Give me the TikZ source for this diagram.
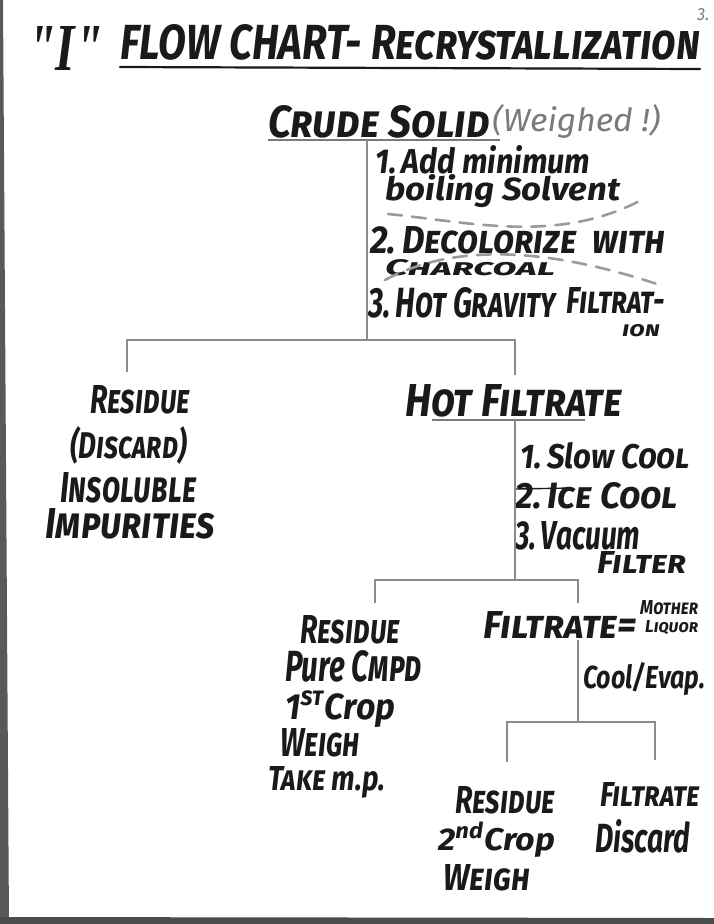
\documentclass[tikz,border=0pt]{standalone}
\usepackage{fontspec}
\setmainfont{Fira Sans}
\newfontfamily\serifI{Liberation Serif}
\usepackage{graphicx}
% width and height (above baseline) of a handwritten line, in px
\newcommand\tw[3]{\resizebox{#1pt}{#2pt}{#3}}
\definecolor{ink}{HTML}{1A1A1A}
\definecolor{pencil}{HTML}{8A8A8A}
\definecolor{faint}{HTML}{7A7A7A}
\tikzset{
  txt/.style={inner sep=0pt, anchor=base west, text=ink, font=\bfseries\itshape},
  gtxt/.style={txt, text=faint},
  conn/.style={draw=pencil, line width=1.6pt},
  uline/.style={draw=ink, line width=2.2pt, line cap=round},
  gline/.style={draw=faint, line width=1.6pt},
  dashmark/.style={draw=faint!75, line width=2.6pt, dash pattern=on 14pt off 10pt, line cap=round}
}
\begin{document}
\begin{tikzpicture}[x=1pt,y=-1pt]
\useasboundingbox (0,0) rectangle (714,924);
\fill[white] (0,0) rectangle (714,924);
% frame edges
\fill[black!65] (0,0) -- (3,0) -- (9,924) -- (0,924) -- cycle;
\fill[black!70] (0,917) -- (714,918) -- (714,924) -- (0,924) -- cycle;

% title
\node[txt] (qI) at (28,70) {\tw{75}{44}{\normalfont\itshape\bfseries\serifI "I"}};
\node[txt] (title) at (120,59) {\tw{580}{35}{FLOW CHART- \textsc{Recrystallization}}};
\draw[uline] (120,67) -- (700,69);
\node[gtxt, font=\itshape] (pg) at (697,20) {\tw{12}{12}{3.}};

% crude solid
\node[txt] (crude) at (268,137) {\tw{222}{32}{\textsc{Crude Solid}}};
\node[gtxt, font=\itshape] (weighed) at (492,131) {\tw{168}{27}{(Weighed !)}};
\draw[gline] (268,140) -- (500,140);
\coordinate (cs) at (367,140);

\node[txt] (s1a) at (375,173) {\tw{215}{28}{1.\,Add minimum}};
\node[txt] (s1b) at (385,200) {\tw{235}{26}{boiling Solvent}};
\node[txt] (s2a) at (370,253) {\tw{295}{27}{2.\,\textsc{Decolorize}\ \ \textsc{with}}};
\node[txt] (s2b) at (385,275) {\tw{170}{16}{\textsc{Charcoal}}};
\node[txt] (s3a) at (368,317) {\tw{188}{30}{3.\,\textsc{Hot Gravity}}};
\node[txt] (s3c) at (566,313) {\tw{99}{26}{\textsc{Filtrat-}}};
\node[txt] (s3b) at (622,336) {\tw{38}{12}{\textsc{ion}}};

% crossed dashes
\draw[dashmark] (388,214) .. controls (470,222) and (560,245) .. (645,198);
\draw[dashmark] (385,280) .. controls (450,245) and (540,245) .. (660,285);

% first split
\coordinate (j1) at (367,340);
\coordinate (l1) at (127,340);
\coordinate (r1) at (515,340);
\coordinate (l1e) at (127,372);
\coordinate (r1e) at (515,375);
\draw[conn] (cs) -- (j1);
\draw[conn] (l1e) -- (l1) -- (r1) -- (r1e);

% left residue
\node[txt] (res1) at (90,413) {\tw{100}{28}{\textsc{Residue}}};
\node[txt] (disc1) at (70,458) {\tw{117}{32}{(\textsc{Discard})}};
\node[txt] (insol) at (60,502) {\tw{136}{30}{\textsc{Insoluble}}};
\node[txt] (impur) at (45,538) {\tw{170}{30}{\textsc{Impurities}}};

% hot filtrate
\node[txt] (hotf) at (405,416) {\tw{217}{32}{\textsc{Hot Filtrate}}};
\draw[gline] (432,420) -- (585,420);
\coordinate (hf) at (515,420);

\node[txt] (c1) at (520,468) {\tw{170}{26}{1.\,Slow \textsc{Cool}}};
\node[txt] (c2) at (515,508) {\tw{163}{26}{2.\,\textsc{Ice Cool}}};
\draw[draw=ink, line width=1.4pt] (516,489) -- (572,488);
\node[txt] (c3a) at (515,549) {\tw{125}{28}{3.\,Vacuum}};
\node[txt] (c3b) at (597,573) {\tw{89}{22}{\textsc{Filter}}};

% second split
\coordinate (j2) at (515,580);
\coordinate (l2) at (375,580);
\coordinate (r2) at (578,580);
\coordinate (l2e) at (375,603);
\coordinate (r2e) at (578,603);
\draw[conn] (hf) -- (j2);
\draw[conn] (l2e) -- (l2) -- (r2) -- (r2e);

% first crop
\node[txt] (res2) at (300,643) {\tw{100}{28}{\textsc{Residue}}};
\node[txt] (pure) at (285,681) {\tw{137}{31}{Pure \textsc{Cmpd}}};
\node[txt] (crop1) at (285,719) {\tw{110}{28}{1\textsuperscript{\textsc{st}}Crop}};
\node[txt] (wg1) at (280,756) {\tw{80}{28}{\textsc{Weigh}}};
\node[txt] (mp) at (268,790) {\tw{117}{24}{\textsc{Take} m.p.}};

% mother liquor
\node[txt] (filt) at (483,638) {\tw{154}{27}{\textsc{Filtrate}=}};
\node[txt] (moth) at (640,614) {\tw{58}{14}{\textsc{Mother}}};
\node[txt] (liq) at (645,632) {\tw{53}{12}{\textsc{Liquor}}};
\coordinate (ml) at (578,640);
\node[txt] (evap) at (583,688) {\tw{122}{26}{Cool/Evap.}};

% third split
\coordinate (j3) at (578,722);
\coordinate (l3) at (507,722);
\coordinate (r3) at (655,722);
\coordinate (l3e) at (507,762);
\coordinate (r3e) at (655,760);
\draw[conn] (ml) -- (j3);
\draw[conn] (l3e) -- (l3) -- (r3) -- (r3e);

% second crop
\node[txt] (res3) at (455,813) {\tw{100}{27}{\textsc{Residue}}};
\node[txt] (crop2) at (438,850) {\tw{117}{28}{2\textsuperscript{nd}Crop}};
\node[txt] (wg2) at (443,890) {\tw{87}{26}{\textsc{Weigh}}};
\node[txt] (filt2) at (600,806) {\tw{100}{24}{\textsc{Filtrate}}};
\node[txt] (disc2) at (595,852) {\tw{95}{33}{Discard}};
\end{tikzpicture}
\end{document}
